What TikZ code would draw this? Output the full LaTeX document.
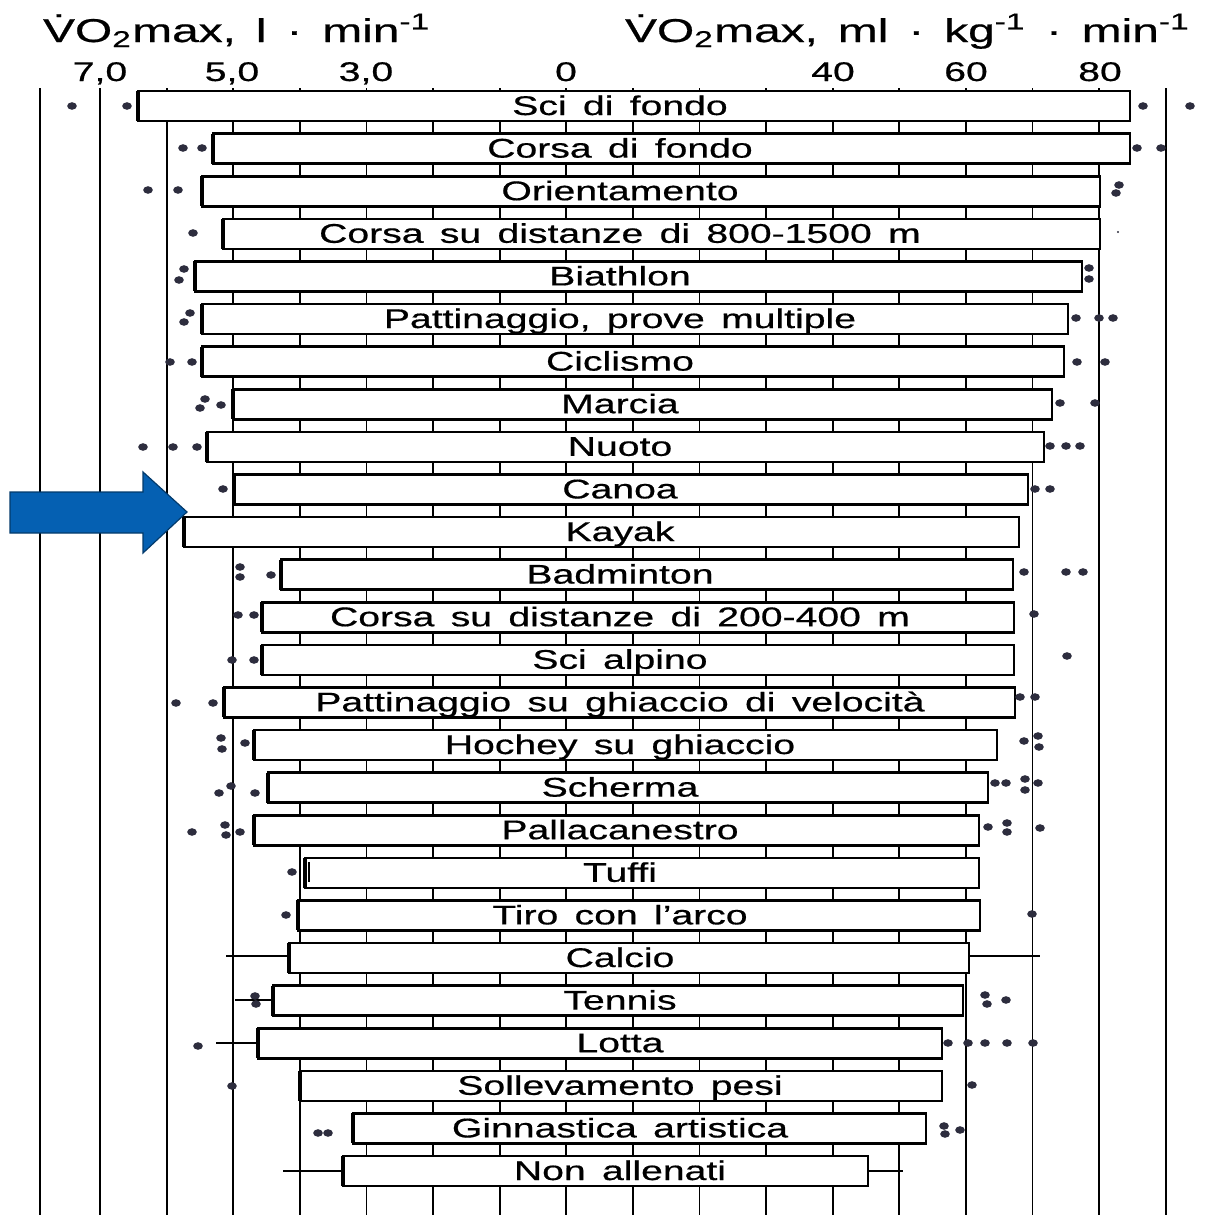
\documentclass[tikz,border=0pt]{standalone}
\usepackage{fontspec}
\setmainfont[WordSpace=1.5, FakeBold=0.5]{Liberation Sans}
\newcommand{\wide}[1]{\scalebox{1.45}[1]{#1}}
\definecolor{arrowblue}{RGB}{5,96,178}
\definecolor{dotgray}{RGB}{45,45,62}
\tikzset{
  grid/.style={line width=0.9pt},
  box/.style={draw, fill=white, line width=1.3pt},
  whisker/.style={line width=0.8pt},
  dot/.style={fill=dotgray},
}
\begin{document}
\begin{tikzpicture}[x=0.5pt, y=-0.5pt, font=\fontsize{13.5}{16}\selectfont]
 \useasboundingbox (0,0) rectangle (1205,1215);
 % grid
 \draw[grid](40,88)--(40,1215);
 \foreach \k in {0,...,16}
 {
     \draw[grid]({100+66.6*\k},88)--({100+66.6*\k},1215);
 }
 % titles and scales
 \node[anchor=base west] (tl) at (36,42) {\fontsize{16.5}{19}\selectfont\wide{\.{V}O\textsubscript{2}max, l · min\textsuperscript{-1}}};
 \node[anchor=base west] (tr) at (618,42) {\fontsize{16.5}{19}\selectfont\wide{\.{V}O\textsubscript{2}max, ml · kg\textsuperscript{-1} · min\textsuperscript{-1}}};
 \foreach \v/\x [count=\j] in {{7,0}/100, {5,0}/232, {3,0}/366, 0/566, 40/833, 60/966, 80/1100}
 {
     \node[anchor=base] (n\j) at (\x,81) {\wide{\v}};
 }
 % rows
 \foreach \lab/\l/\r [count=\i] in {
     Sci di fondo/138/1130,
     Corsa di fondo/213/1130,
     Orientamento/202/1100,
     Corsa su distanze di 800-1500 m/223/1100,
     Biathlon/195/1082,
     {Pattinaggio, prove multiple}/202/1068,
     Ciclismo/202/1064,
     Marcia/233/1052,
     Nuoto/207/1044,
     Canoa/234/1028,
     Kayak/184/1019,
     Badminton/281/1013,
     Corsa su distanze di 200-400 m/262/1014,
     Sci alpino/262/1014,
     Pattinaggio su ghiaccio di velocità/224/1015,
     Hochey su ghiaccio/254/997,
     Scherma/268/988,
     Pallacanestro/254/979,
     Tuffi/305/979,
     Tiro con l’arco/298/980,
     Calcio/289/969,
     Tennis/273/963,
     Lotta/258/942,
     Sollevamento pesi/300/942,
     Ginnastica artistica/353/926,
     Non allenati/343/868}
 {
     \pgfmathsetmacro{\yy}{106+42.6*(\i-1)}
     \draw[box](\l,\yy-15) rectangle (\r,\yy+15);
     \draw[line width=2pt](\l,\yy-15)--(\l,\yy+15);
     \node[anchor=base] (r\i) at (620,\yy+9) {\wide{\lab}};
 }
 \draw[line width=0.9pt](309,862)--(309,882);
 % whiskers
 \draw[whisker](226,956)--(289,956) (969,956)--(1040,956);
 \draw[whisker](235,1000)--(273,1000);
 \draw[whisker](216,1043)--(258,1043);
 \draw[whisker](283,1171)--(343,1171) (868,1171)--(903,1171);
 % single values
 \foreach \x/\y in {72/106,127/106,1143/106,1190/106,
     183/148,202/148,1137/148,1161/148,
     148/190,178/190,1119/185,1116/193,
     193/233,
     184/269,179/280,1089/268,1089/279,
     190/313,184/322,1076/318,1099/318,1113/318,
     170/362,192/362,1077/362,1105/362,
     205/399,200/408,221/405,1060/403,1095/403,
     143/447,173/447,197/447,1050/446,1066/446,1080/446,
     223/489,1035/489,1050/489,
     240/567,240/577,271/575,1024/572,1066/572,1083/572,
     238/615,254/615,1034/614,
     232/660,254/660,1067/656,
     176/703,213/703,1020/697,1035/697,
     221/738,222/749,245/743,1024/741,1038/736,1039/747,
     219/793,231/786,255/793,995/783,1006/783,1025/779,1025/790,1038/783,
     192/832,225/825,226/835,240/832,988/827,1007/823,1007/832,1040/828,
     292/872,
     286/915,1032/914,
     255/996,256/1004,985/995,987/1004,1006/1000,
     198/1046,948/1043,968/1043,985/1043,1007/1043,1033/1043,
     232/1086,972/1085,
     318/1133,328/1133,944/1126,945/1134,960/1130}
 {
     \fill[dot](\x,\y) ellipse (4.8 and 3.8);
 }
 \fill[dot](1118,232) circle (1.2);
 % arrow
 \filldraw[fill=arrowblue, draw=arrowblue!60!black, line width=0.6pt]
     (10,492)--(143,492)--(143,472)--(187,512)--(143,553)--(143,533)--(10,533)--cycle;
\end{tikzpicture}
\end{document}
